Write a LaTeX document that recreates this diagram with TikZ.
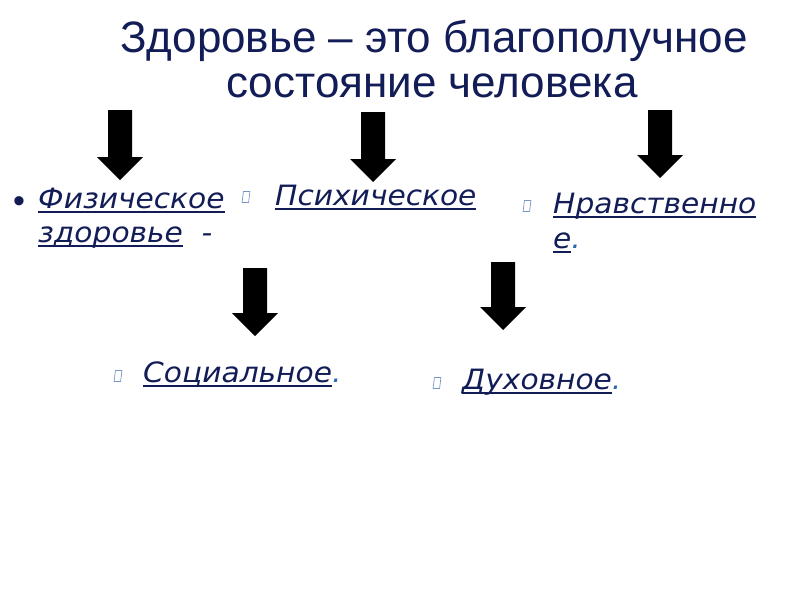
\documentclass[tikz,border=0pt]{standalone}
\usepackage{fontspec}
\setmainfont{Liberation Sans}
\newfontfamily\itemfont{DejaVu Sans}[FakeStretch=1.06]
\usetikzlibrary{positioning}
\definecolor{ink}{RGB}{18,28,86}
\definecolor{dotblue}{RGB}{45,105,175}
\definecolor{boxblue}{RGB}{120,150,195}
% underline close to the baseline, as on the slide
\newcommand\undl[1]{\setbox0\hbox{#1}\rlap{\rule[-4.5pt]{\wd0}{1.8pt}}\box0}

\begin{document}
\begin{tikzpicture}[
    x=1pt, y=-1pt,
    title/.style={font=\fontsize{44}{46}\selectfont, text=ink, inner sep=0pt, anchor=base},
    item/.style={font=\itemfont\itshape\fontsize{28}{32}\selectfont, text=ink, inner sep=0pt, anchor=base west},
    tick/.style={draw=boxblue, line width=.7pt, minimum width=6.5pt, minimum height=11pt, inner sep=0pt, xslant=.12},
]
    \useasboundingbox (0,0) rectangle (800,600);

    %% the title
    \node[title] (head1) at (434,52) {Здоровье -- это благополучное};
    \node[title] (head2) at (432,97) {состояние человека};

    %% the five block arrows, pointing down
    \foreach \x/\yt/\yb in {120/110/180, 373/112/182, 660/110/178, 255/268/336, 503/262/330}
        \fill[black] (\x-12,\yt) -- (\x+12,\yt) -- (\x+12,\yb-23) -- (\x+23,\yb-23)
            -- (\x,\yb) -- (\x-23,\yb-23) -- (\x-12,\yb-23) -- cycle;

    %% the kinds of health
    \node[item, font=\fontsize{34}{36}\selectfont] (dot) at (13,212) {•};
    \node[item] (phys) at (38,208) {\undl{Физическое}};
    \node[item] (phys2) at (38,242) {\undl{здоровье}\ \ -};
    \node[tick] (t1) at (246,197) {};
    \node[item] (psych) at (275,205) {\undl{Психическое}};
    \node[tick] (t2) at (527,206) {};
    \node[item] (moral) at (553,213) {\undl{Нравственно}};
    \node[item] (moral2) at (553,248) {\undl{е}\textcolor{dotblue}{.}};
    \node[tick] (t3) at (118,376) {};
    \node[item] (soc) at (143,382) {\undl{Социальное}\textcolor{dotblue}{.}};
    \node[tick] (t4) at (437,383) {};
    \node[item] (spir) at (462,389) {\undl{Духовное}\textcolor{dotblue}{.}};
\end{tikzpicture}
\end{document}
